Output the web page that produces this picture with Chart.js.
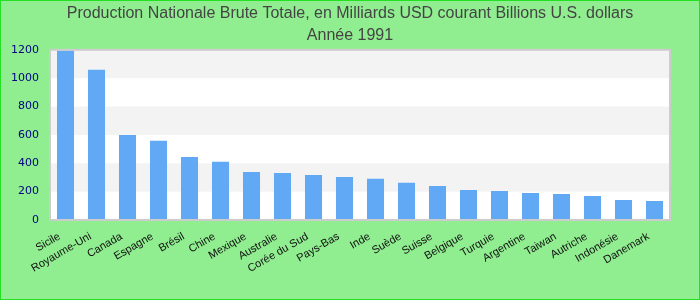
<!DOCTYPE html>
<html>
<head>
<meta charset="utf-8">
<script src="https://cdn.jsdelivr.net/npm/chart.js@4/dist/chart.umd.min.js"></script>
<style>
  html, body { margin: 0; padding: 0; background: #90ee90; }
  #wrap { width: 700px; height: 300px; position: relative; }
</style>
</head>
<body>
<div id="wrap"><canvas id="chartPnb"></canvas></div>
<script>
// donnees
const pays = ['Sicile', 'Royaume-Uni', 'Canada', 'Espagne', 'Brésil', 'Chine', 'Mexique',
  'Australie', 'Corée du Sud', 'Pays-Bas', 'Inde', 'Suède', 'Suisse', 'Belgique', 'Turquie',
  'Argentine', 'Taiwan', 'Autriche', 'Indonésie', 'Danemark'];
const pnb = [1195, 1060, 600, 559, 445, 410, 339, 332, 318, 304,
  290, 262, 240, 212, 205, 191, 184, 170, 141, 134];
const titre = ['Production Nationale Brute Totale, en Milliards USD courant Billions U.S. dollars', 'Année 1991'];
const yMax = 1200;
const yPas = 200;

// fond vert, bandes grises, cadre
const fondPlugin = {
  id: 'fond',
  beforeDraw(chart) {
    const ctx = chart.ctx;
    const a = chart.chartArea;
    const y = chart.scales.y;
    ctx.save();
    ctx.fillStyle = '#90ee90';
    ctx.fillRect(0, 0, chart.width, chart.height);
    ctx.strokeStyle = '#22e022';
    ctx.lineWidth = 1;
    ctx.strokeRect(0.5, 0.5, chart.width - 1, chart.height - 1);
    ctx.fillStyle = '#ffffff';
    ctx.fillRect(a.left, a.top, a.right - a.left, a.bottom - a.top);
    ctx.fillStyle = '#f3f3f3';
    for (let v = yPas; v < yMax; v += yPas * 2) {
      const y1 = y.getPixelForValue(v + yPas);
      const y0 = y.getPixelForValue(v);
      ctx.fillRect(a.left, y1, a.right - a.left, y0 - y1);
    }
    ctx.restore();
  },
  afterDatasetsDraw(chart) {
    const ctx = chart.ctx;
    const a = chart.chartArea;
    ctx.save();
    ctx.strokeStyle = '#cccccc';
    ctx.lineWidth = 2;
    ctx.strokeRect(a.left, a.top, a.right - a.left, a.bottom - a.top);
    ctx.restore();
  }
};

new Chart(document.getElementById('chartPnb'), {
  type: 'bar',
  data: {
    labels: pays,
    datasets: [{
      label: 'PNB',
      data: pnb,
      backgroundColor: '#62a9f5',
      borderWidth: 0,
      barPercentage: 0.55,
      categoryPercentage: 1
    }]
  },
  options: {
    responsive: true,
    maintainAspectRatio: false,
    animation: false,
    layout: { padding: 0 },
    plugins: {
      legend: { display: false },
      tooltip: { enabled: false },
      title: {
        display: true,
        text: titre,
        color: '#444444',
        font: { family: 'Liberation Sans', size: 16, weight: 'normal', lineHeight: 1.4 },
        padding: { top: 2, bottom: 3 }
      }
    },
    scales: {
      x: {
        grid: { display: false },
        border: { display: false },
        ticks: {
          color: '#111111',
          font: { family: 'Liberation Sans', size: 11 },
          minRotation: 30,
          maxRotation: 30,
          autoSkip: false,
          labelOffset: -6,
          padding: 2
        },
        afterFit(scale) { scale.height = 80; }
      },
      y: {
        min: 0,
        max: yMax,
        grid: { display: false, drawTicks: false },
        border: { display: false },
        ticks: {
          stepSize: yPas,
          color: '#000080',
          font: { family: 'DejaVu Sans', size: 11 },
          padding: 11,
          callback: (v) => String(v)
        },
        afterFit(scale) { scale.width = 50; }
      },
      // marge droite vide
      yDroite: {
        position: 'right',
        grid: { display: false },
        border: { display: false },
        ticks: { display: false },
        afterFit(scale) { scale.width = 30; }
      }
    }
  },
  plugins: [fondPlugin]
});
</script>
</body>
</html>
